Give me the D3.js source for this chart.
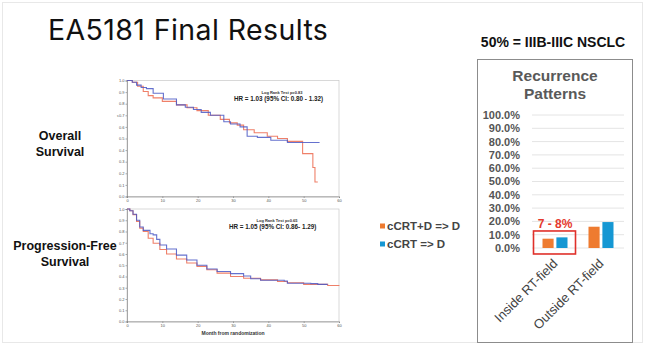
<!DOCTYPE html>
<html><head><meta charset="utf-8">
<script src="https://cdn.jsdelivr.net/npm/d3@7"></script>
<style>body{margin:0;background:#fff}svg{display:block}</style>
</head><body>
<svg id="c" width="650" height="356"></svg>
<script>
// ---------- DATA ----------
// Kaplan-Meier: Overall Survival
const osDTime  = [0, 1.5, 3, 4.6, 6, 7.4, 10, 14, 17, 19.8, 23, 26.4, 29, 31.2, 33, 36, 39.7, 42.6, 45.4, 49.7, 52.6, 53.2, 54];
const osDSurv  = [1, 0.985, 0.95, 0.905, 0.87, 0.85, 0.82, 0.79, 0.765, 0.74, 0.70, 0.665, 0.635, 0.615, 0.575, 0.55, 0.52, 0.50, 0.475, 0.37, 0.25, 0.125, 0.125];
const osTime   = [0, 1.5, 2.7, 4, 5.5, 7.4, 10.3, 14, 16.5, 18.8, 21, 23.6, 27.4, 29.3, 32, 34, 36.9, 40.7, 45.4, 54.5];
const osSurv   = [1, 0.985, 0.96, 0.94, 0.93, 0.89, 0.84, 0.79, 0.77, 0.75, 0.725, 0.70, 0.645, 0.625, 0.60, 0.52, 0.51, 0.485, 0.465, 0.465];
// Kaplan-Meier: Progression-Free Survival
const pfsDTime = [0, 0.8, 1.7, 2.7, 3.6, 4.6, 6, 7.4, 9.3, 11.2, 14, 16.9, 19.8, 22.6, 25.5, 29.3, 33, 37.8, 42.6, 45.4, 50, 56.8, 60];
const pfsDSurv = [1, 0.985, 0.95, 0.89, 0.83, 0.80, 0.74, 0.695, 0.64, 0.60, 0.556, 0.52, 0.49, 0.46, 0.43, 0.40, 0.385, 0.37, 0.355, 0.345, 0.33, 0.32, 0.317];
const pfsTime  = [0, 0.8, 1.7, 2.7, 3.6, 4.6, 6.5, 7.4, 8.4, 9.3, 11.2, 14, 16.9, 19.8, 22.6, 25.5, 29.3, 33, 35, 37.8, 44.5, 45.4, 52, 54, 56.8];
const pfsSurv  = [1, 0.985, 0.953, 0.90, 0.84, 0.81, 0.78, 0.77, 0.73, 0.68, 0.645, 0.59, 0.547, 0.50, 0.467, 0.444, 0.426, 0.405, 0.38, 0.367, 0.36, 0.34, 0.337, 0.33, 0.33];
const kmXTicks = [0, 10, 20, 30, 40, 50, 60];
const kmYTicks = [0, 0.1, 0.2, 0.3, 0.4, 0.5, 0.6, 0.7, 0.8, 0.9, 1.0];

// Recurrence pattern bars
const barCategories = ["Inside RT-field", "Outside RT-field"];
const barSeries     = ["cCRT+D => D", "cCRT => D"];
const barCcrtD      = [7, 16];
const barCcrt       = [8, 19.5];
const barTicks      = [0, 10, 20, 30, 40, 50, 60, 70, 80, 90, 100];

// ---------- DRAW ----------
const svg = d3.select("#c");
const RED = "#ec6a4f", BLUE = "#4a58c6";
const ORANGE = "#ee7b30", CYAN = "#1597d3";
const SANS = "'Liberation Sans', Arial, sans-serif";

// slide frame
svg.append("rect").attr("x",2.5).attr("y",2.5).attr("width",640).attr("height",340)
  .attr("fill","none").attr("stroke","#e8e8e8");

// title
svg.append("text").attr("x",48).attr("y",40).text("EA5181 Final Results")
  .attr("font-family","Inter, 'Open Sans', sans-serif").attr("font-size",28.5)
  .attr("letter-spacing",0.4).attr("fill","#111");

svg.append("text").attr("x",553).attr("y",47).attr("text-anchor","middle")
  .text("50% = IIIB-IIIC NSCLC")
  .attr("font-family",SANS).attr("font-weight","bold")
  .attr("font-size",14).attr("fill","#111");

// side labels
const sideLab = [["Overall",60,140],["Survival",60,156],["Progression-Free",65,250],["Survival",65,266]];
svg.selectAll("text.side").data(sideLab).join("text").attr("class","side")
  .attr("x",d=>d[1]).attr("y",d=>d[2]).attr("text-anchor","middle").text(d=>d[0])
  .attr("font-family",SANS).attr("font-weight","bold")
  .attr("font-size",12.5).attr("fill","#111");

function km(y0, y1, series, logrank, hr, hrX, hrY, xlabel) {
  const x = d3.scaleLinear().domain([0,60]).range([127,339]);
  const y = d3.scaleLinear().domain([0,1]).range([y0,y1]);
  const g = svg.append("g");
  g.append("rect").attr("x",x(0)).attr("y",y(1)).attr("width",x(60)-x(0)).attr("height",y(0)-y(1))
    .attr("fill","none").attr("stroke","#c8c8c8").attr("stroke-width",0.7);
  const ax = g.append("g").attr("transform",`translate(0,${y(0)})`)
    .call(d3.axisBottom(x).tickValues(kmXTicks).tickSize(1.5).tickPadding(1).tickFormat(d3.format("d")));
  const ay = g.append("g").attr("transform",`translate(${x(0)},0)`)
    .call(d3.axisLeft(y).tickValues(kmYTicks).tickSize(1.5).tickPadding(1).tickFormat(d3.format(".1f")));
  [ax,ay].forEach(a=>{
    a.selectAll("path,line").attr("stroke","#777").attr("stroke-width",0.6);
    a.selectAll("text").attr("font-size",4).attr("fill","#555").attr("font-family",SANS);
  });
  const line = d3.line().x(d=>x(d[0])).y(d=>y(d[1])).curve(d3.curveStepAfter);
  series.forEach(s=>{
    g.append("path").datum(d3.zip(s.t, s.v)).attr("d",line).attr("fill","none")
      .attr("stroke",s.c).attr("stroke-width",1.1).attr("stroke-opacity",0.85);
  });
  g.append("text").attr("x",hrX+48).attr("y",hrY-7).attr("text-anchor","middle").text(logrank)
    .attr("font-family",SANS).attr("font-weight","bold").attr("font-size",4).attr("fill","#333");
  g.append("text").attr("x",hrX).attr("y",hrY).text(hr)
    .attr("font-family",SANS).attr("font-weight","bold").attr("font-size",6.3).attr("fill","#222");
  if (xlabel) g.append("text").attr("x",233).attr("y",335).attr("text-anchor","middle").text(xlabel)
    .attr("font-family",SANS).attr("font-weight","bold").attr("font-size",5).attr("fill","#333");
  return g;
}
const g1 = km(196.5, 80.5, [{t:osDTime,v:osDSurv,c:RED},{t:osTime,v:osSurv,c:BLUE}],
  "Log Rank Test p=0.83", "HR = 1.03 (95% CI: 0.80 - 1.32)", 234, 101, null);
g1.append("text").attr("x",117).attr("y",117).text("s").attr("font-size",4).attr("fill","#555");
km(321.5, 209, [{t:pfsDTime,v:pfsDSurv,c:RED},{t:pfsTime,v:pfsSurv,c:BLUE}],
  "Log Rank Test p=0.65", "HR = 1.05 (95% CI: 0.86- 1.29)", 229, 229, "Month from randomization");

// legend
const leg = svg.append("g");
barSeries.forEach((s,i)=>{
  leg.append("rect").attr("x",380).attr("y",223.5+i*18).attr("width",5).attr("height",5).attr("fill",[ORANGE,CYAN][i]);
  leg.append("text").attr("x",387).attr("y",230+i*18).text(s)
    .attr("font-family",SANS).attr("font-weight","bold")
    .attr("font-size",11.5).attr("fill","#444");
});

// recurrence bar chart
svg.append("rect").attr("x",477.5).attr("y",59.5).attr("width",155).attr("height",283)
  .attr("fill","#fff").attr("stroke","#8c8c8c").attr("stroke-width",1);
svg.append("text").attr("x",555).attr("y",81).attr("text-anchor","middle").text("Recurrence")
  .attr("font-family",SANS).attr("font-weight","bold").attr("font-size",15.5).attr("fill","#595959");
svg.append("text").attr("x",555).attr("y",99).attr("text-anchor","middle").text("Patterns")
  .attr("font-family",SANS).attr("font-weight","bold").attr("font-size",15.5).attr("fill","#595959");

const by = d3.scaleLinear().domain([0,100]).range([248,115]);
const bx = d3.scaleBand().domain(barCategories).range([532,624]);
const bs = d3.scaleBand().domain(barSeries).range([10.5,35.5]).paddingInner(0.2);
const bg = svg.append("g");
bg.selectAll("line.grid").data(barTicks).join("line").attr("class","grid")
  .attr("x1",532).attr("x2",624).attr("y1",d=>by(d)).attr("y2",d=>by(d))
  .attr("stroke","#e4e4e4").attr("stroke-width",1);
bg.selectAll("text.tick").data(barTicks).join("text").attr("class","tick")
  .attr("x",520).attr("y",d=>by(d)).attr("dy","0.36em").attr("text-anchor","end")
  .text(d=>d3.format(".1f")(d)+"%")
  .attr("font-family",SANS).attr("font-weight","bold").attr("font-size",11).attr("fill","#555");
const vals = [barCcrtD, barCcrt];
barSeries.forEach((s,si)=>{
  bg.selectAll(null).data(barCategories).join("rect")
    .attr("x",c=>bx(c)+bs(s)).attr("width",bs.bandwidth())
    .attr("y",(c,i)=>by(vals[si][i])).attr("height",(c,i)=>by(0)-by(vals[si][i]))
    .attr("fill",[ORANGE,CYAN][si]);
});
// highlight box
bg.append("rect").attr("x",bx(barCategories[0])+1.5).attr("y",by(12.8))
  .attr("width",bx.bandwidth()-4).attr("height",by(-4.5)-by(12.8))
  .attr("fill","none").attr("stroke","#e0302a").attr("stroke-width",1.6);
bg.append("text").attr("x",bx(barCategories[0])+bx.bandwidth()/2).attr("y",227.5).attr("text-anchor","middle")
  .text("7 - 8%").attr("font-family",SANS).attr("font-weight","bold")
  .attr("font-size",12).attr("fill","#e5392e");
// category labels
bg.selectAll("text.cat").data(barCategories).join("text").attr("class","cat")
  .attr("transform",c=>`translate(${bx(c)+bx.bandwidth()/2-3},${258}) rotate(-45)`)
  .attr("text-anchor","end").attr("dy","0.7em").text(c=>c)
  .attr("font-family",SANS).attr("font-size",13).attr("fill","#444");
</script>
</body></html>
